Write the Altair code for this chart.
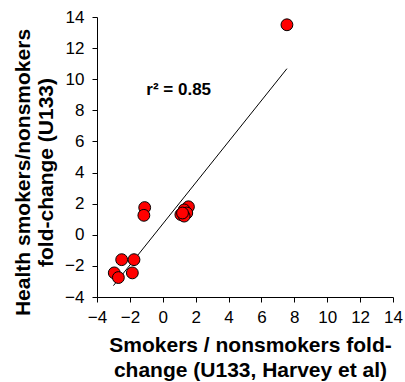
import altair as alt
import pandas as pd

# Smokers / nonsmokers fold-change (U133, Harvey et al)
harvey_fc = [7.55, -1.1, -1.15, 1.56, 1.3, 1.1, 1.46, 1.3, 1.2, -2.5, -1.75, -1.85, -2.95, -2.7]
# Health smokers/nonsmokers fold-change (U133)
health_fc = [13.5, 1.75, 1.25, 1.8, 1.6, 1.3, 1.4, 1.2, 1.4, -1.6, -1.6, -2.45, -2.45, -2.75]

# trend line as drawn in the original
fit_x = [-3.0, 7.55]
fit_y = [-3.27, 10.68]

tick_values = [-4, -2, 0, 2, 4, 6, 8, 10, 12, 14]
r2_label = "r\u00b2 = 0.85"

pts = pd.DataFrame({"x": harvey_fc, "y": health_fc})
fit = pd.DataFrame({"x": fit_x, "y": fit_y})
lab = pd.DataFrame({"x": [-1.0], "y": [9.3], "t": [r2_label]})

FONT = "Liberation Sans"

xs = alt.Scale(domain=[-4, 14], nice=False, zero=False)
ys = alt.Scale(domain=[-4, 14], nice=False, zero=False)

xax = alt.Axis(values=tick_values, grid=False, title=["Smokers / nonsmokers fold-", "change (U133, Harvey et al)"],
               labelFontSize=17, labelFont=FONT, labelColor="#000", labelPadding=7, labelOverlap=False,
               titleFont=FONT, titleFontSize=21, titleFontWeight="bold", titleColor="#000",
               titlePadding=9, titleLineHeight=25, titleX=153,
               domainColor="#000", tickColor="#000", tickSize=5, labelFlush=False)
yax = alt.Axis(values=tick_values, grid=False, title=["Health smokers/nonsmokers", "fold-change (U133)"],
               labelFontSize=17, labelFont=FONT, labelColor="#000", labelPadding=8, labelOverlap=False,
               titleFont=FONT, titleFontSize=21, titleFontWeight="bold", titleColor="#000",
               titlePadding=8, titleLineHeight=23, titleY=155,
               domainColor="#000", tickColor="#000", tickSize=5, labelFlush=False)

X = alt.X("x:Q", scale=xs, axis=xax)
Y = alt.Y("y:Q", scale=ys, axis=yax)

line = alt.Chart(fit).mark_line(color="#000", strokeWidth=1).encode(x=X, y=Y)

points = alt.Chart(pts).mark_circle(size=140, color="#FF0000", opacity=1, stroke="#000", strokeWidth=1).encode(
    x=X, y=Y)

text = alt.Chart(lab).mark_text(align="left", baseline="middle", font=FONT, fontSize=17,
                                fontWeight="bold", color="#000").encode(x=X, y=Y, text="t:N")

chart = alt.layer(line, points, text).properties(
    width=296, height=280,
    autosize=alt.AutoSizeParams(type="none"),
    padding={"left": 97, "top": 17, "right": 12, "bottom": 85},
    background="white",
).configure_view(stroke=None)

chart.save("out.html", embed_options={"renderer": "svg", "actions": False})
